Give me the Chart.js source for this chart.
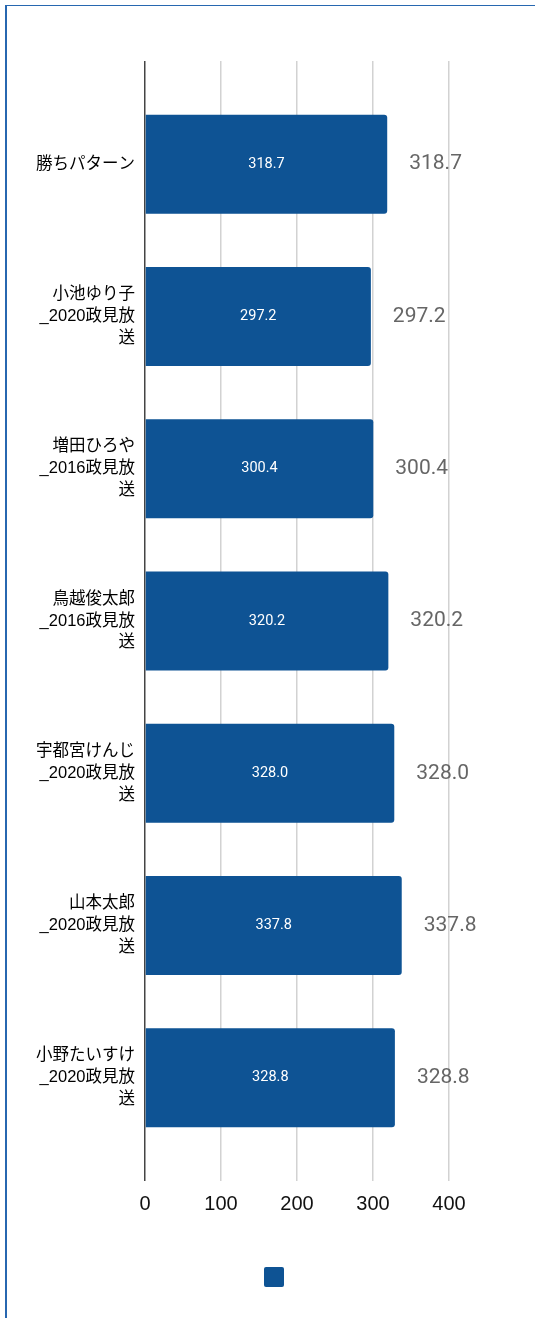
<!DOCTYPE html>
<html>
<head>
<meta charset="utf-8">
<script src="https://cdn.jsdelivr.net/npm/chart.js@4"></script>
<style>
  html, body { margin: 0; padding: 0; background: #fff; }
  #frame {
    position: absolute; left: 5px; top: 5px; width: 700px; height: 1500px;
    border-left: 2px solid #2767b0; border-top: 1px solid #2767b0;
  }
  #chart { position: absolute; left: 0; top: 0; }
</style>
</head>
<body>
<div id="frame"></div>
<canvas id="chart" width="535" height="1318"></canvas>
<script>
// --- données ---
const categories = [
    ['勝ちパターン'],
    ['小池ゆり子', '_2020政見放', '送'],
    ['増田ひろや', '_2016政見放', '送'],
    ['鳥越俊太郎', '_2016政見放', '送'],
    ['宇都宮けんじ', '_2020政見放', '送'],
    ['山本太郎', '_2020政見放', '送'],
    ['小野たいすけ', '_2020政見放', '送']
];
const values = [318.7, 297.2, 300.4, 320.2, 328.0, 337.8, 328.8];
const xTicks = [0, 100, 200, 300, 400];

const BAR_COLOR = '#0e5394';
const LABEL_FONT = "'Liberation Sans', 'Noto Sans CJK JP', sans-serif";

// étiquettes de valeur : dans la barre (blanc) et à droite (gris)
const valueLabels = {
    id: 'valueLabels',
    afterDatasetsDraw(chart) {
        const ctx = chart.ctx;
        const meta = chart.getDatasetMeta(0);
        const data = chart.data.datasets[0].data;
        ctx.save();
        ctx.textBaseline = 'middle';
        meta.data.forEach((bar, i) => {
            const txt = data[i].toFixed(1);
            ctx.fillStyle = '#ffffff';
            ctx.font = "14.5px Roboto, sans-serif";
            ctx.textAlign = 'center';
            ctx.fillText(txt, (bar.x + bar.base) / 2, bar.y);
            ctx.fillStyle = '#666666';
            ctx.font = "21px Roboto, sans-serif";
            ctx.textAlign = 'left';
            ctx.fillText(txt, bar.x + 22, bar.y);
        });
        ctx.restore();
    }
};

const gridColor = c => (c.tick && c.tick.value === 0) ? '#444444' : '#d2d2d2';

new Chart(document.getElementById('chart').getContext('2d'), {
    type: 'bar',
    data: {
        labels: categories,
        datasets: [{
            label: '',
            data: values,
            backgroundColor: BAR_COLOR,
            borderWidth: 0,
            borderRadius: 3,
            borderSkipped: 'start',
            categoryPercentage: 1,
            barPercentage: 0.65
        }]
    },
    options: {
        indexAxis: 'y',
        responsive: false,
        devicePixelRatio: 1,
        animation: false,
        layout: { padding: { top: 61, left: 19, right: 0, bottom: 21 } },
        plugins: {
            tooltip: { enabled: false },
            legend: {
                position: 'bottom',
                labels: {
                    boxWidth: 20,
                    boxHeight: 20,
                    useBorderRadius: true,
                    borderRadius: 2,
                    padding: 10,
                    font: { size: 12 }
                }
            }
        },
        scales: {
            x: {
                min: 0, max: 400,
                ticks: {
                    stepSize: 100,
                    color: '#111',
                    padding: 11,
                    font: { size: 20, family: LABEL_FONT },
                    callback: v => xTicks.includes(v) ? String(v) : null
                },
                grid: { color: gridColor, tickColor: gridColor, lineWidth: 1.5, tickLength: 27 },
                border: { display: false },
                afterFit: s => { s.height = 103; }
            },
            x2: {
                type: 'linear',
                position: 'top',
                min: 0, max: 400,
                ticks: { stepSize: 100, display: false },
                grid: { drawOnChartArea: false, color: gridColor, tickColor: gridColor, lineWidth: 1.5, tickLength: 27 },
                border: { display: false },
                afterFit: s => { s.height = 27; }
            },
            y: {
                ticks: {
                    color: '#000',
                    padding: 10,
                    font: { size: 16.5, family: LABEL_FONT, lineHeight: 1.33 }
                },
                grid: { display: false, drawTicks: false },
                border: { display: false },
                afterFit: s => { s.width = 126; }
            },
            y2: {
                type: 'linear',
                position: 'right',
                ticks: { display: false },
                grid: { display: false },
                border: { display: false },
                afterFit: s => { s.width = 86; }
            }
        }
    },
    plugins: [valueLabels]
});
</script>
</body>
</html>
